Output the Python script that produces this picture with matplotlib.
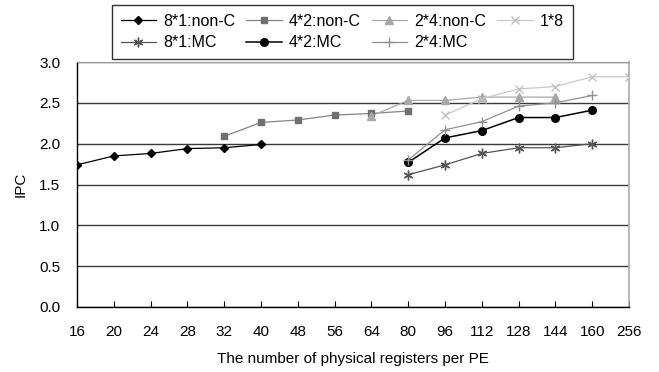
import matplotlib
matplotlib.use("Agg")
import matplotlib.pyplot as plt

plt.rcParams['font.family'] = ['Liberation Sans', 'DejaVu Sans']

categories = ["16", "20", "24", "28", "32", "40", "48", "56", "64", "80",
              "96", "112", "128", "144", "160", "256"]

s81_nonc = {"16": 1.74, "20": 1.85, "24": 1.88, "28": 1.94, "32": 1.95, "40": 1.99}
s42_nonc = {"32": 2.09, "40": 2.26, "48": 2.29, "56": 2.35, "64": 2.37, "80": 2.40}
s24_nonc = {"64": 2.34, "80": 2.53, "96": 2.53, "112": 2.57, "128": 2.57, "144": 2.57}
s18 = {"96": 2.35, "112": 2.55, "128": 2.67, "144": 2.70, "160": 2.82, "256": 2.82}
s81_mc = {"80": 1.62, "96": 1.74, "112": 1.88, "128": 1.95, "144": 1.95, "160": 2.00}
s42_mc = {"80": 1.77, "96": 2.07, "112": 2.16, "128": 2.32, "144": 2.32, "160": 2.41}
s24_mc = {"80": 1.80, "96": 2.17, "112": 2.27, "128": 2.46, "144": 2.50, "160": 2.59}

series = [
    ("8*1:non-C", s81_nonc, dict(color="black", marker="D", ms=4.5, mfc="black", mec="black", lw=0.9)),
    ("4*2:non-C", s42_nonc, dict(color="#858585", marker="s", ms=5, mfc="#707070", mec="#707070", lw=0.9)),
    ("2*4:non-C", s24_nonc, dict(color="#a8a8a8", marker="^", ms=6, mfc="#a8a8a8", mec="#a8a8a8", lw=0.9)),
    ("1*8", s18, dict(color="#c8c8c8", marker="x", ms=6, mfc="none", mec="#c0c0c0", mew=1.0, lw=0.9)),
    ("8*1:MC", s81_mc, dict(color="#555555", marker=(6, 2, 0), ms=7, mec="#555555", mew=1.0, lw=0.9)),
    ("4*2:MC", s42_mc, dict(color="black", marker="o", ms=5.5, mfc="black", mec="black", lw=1.1)),
    ("2*4:MC", s24_mc, dict(color="#909090", marker="+", ms=7, mec="#909090", mew=1.0, lw=0.9)),
]

fig = plt.figure(figsize=(6.59, 3.72), dpi=100)
ax = fig.add_axes([77/659, 1-307/372, (629-77)/659, (307-62)/372])

handles = {}
for name, data, style in series:
    xs = [categories.index(k) for k in data]
    ys = list(data.values())
    h, = ax.plot(xs, ys, label=name, zorder=3, **style)
    handles[name] = h

ax.set_xlim(0, len(categories) - 1)
ax.set_ylim(0, 3.0)
ax.set_xticks(range(len(categories)))
ax.set_xticklabels(categories)
ax.set_yticks([0.0, 0.5, 1.0, 1.5, 2.0, 2.5, 3.0])
ax.set_yticklabels(["0.0", "0.5", "1.0", "1.5", "2.0", "2.5", "3.0"])
ax.tick_params(axis='x', direction='in', length=4, width=0.8, pad=13, labelsize=11, colors='black')
ax.tick_params(axis='y', length=0, pad=12, labelsize=11)
ax.yaxis.grid(True, color="#3a3a3a", linewidth=1.0, zorder=0)
ax.set_axisbelow(True)
for sp in ["left", "bottom"]:
    ax.spines[sp].set_color("black")
    ax.spines[sp].set_linewidth(1.0)
ax.spines["top"].set_color("#999999")
ax.spines["right"].set_color("#aaaaaa")
ax.spines["right"].set_linewidth(1.2)

ax.set_xlabel("The number of physical registers per PE", fontsize=11, labelpad=9)
ax.set_ylabel("IPC", fontsize=11, labelpad=8)

order = ["8*1:non-C", "8*1:MC", "4*2:non-C", "4*2:MC", "2*4:non-C", "2*4:MC", "1*8"]
leg = fig.legend([handles[n] for n in order], order, ncol=4, loc="upper left",
                 bbox_to_anchor=(112/659, 1-5/372), borderaxespad=0,
                 fontsize=11.5, frameon=True, fancybox=False, edgecolor="black",
                 handlelength=2.2, handletextpad=0.45, columnspacing=0.7,
                 labelspacing=0.4, borderpad=0.55)
leg.get_frame().set_linewidth(1.0)

fig.savefig("out.png", dpi=100)
